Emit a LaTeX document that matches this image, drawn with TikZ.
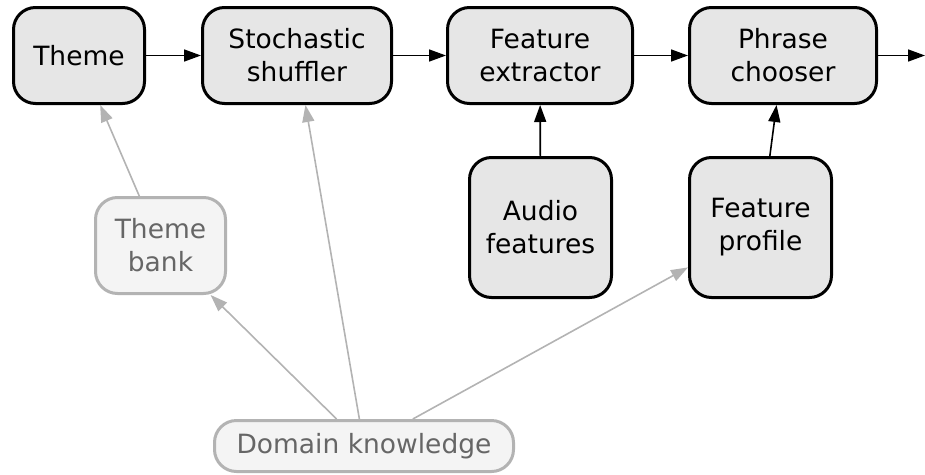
\documentclass[tikz,border=0pt]{standalone}
\usepackage{fontspec}
\setmainfont{DejaVu Sans}
\usetikzlibrary{arrows.meta}
\definecolor{boxfill}{HTML}{E6E6E6}
\definecolor{softfill}{HTML}{F4F4F4}
\definecolor{softline}{HTML}{B3B3B3}
\definecolor{softtext}{HTML}{666666}
\tikzset{
  stage/.style={draw=black, fill=boxfill, line width=3pt, rounded corners=22pt,
    inner sep=0pt, align=center, font=\fontsize{26.5}{33}\selectfont},
  source/.style={draw=softline, fill=softfill, text=softtext, line width=3pt,
    rounded corners=22pt, inner sep=0pt, align=center,
    font=\fontsize{26.5}{33}\selectfont},
  flow/.style={draw=black, line width=1.6pt,
    -{Triangle[length=17pt,width=12pt]}},
  hint/.style={draw=softline, line width=1.6pt,
    -{Triangle[length=17pt,width=12pt,fill=softline]}},
}
\begin{document}
\begin{tikzpicture}[x=1pt, y=-1pt]
  \useasboundingbox (0,0) rectangle (925,474);

  % main pipeline
  \node[stage, minimum width=131pt, minimum height=96pt] (theme) at (79,55.5) {Theme};
  \node[stage, minimum width=189pt, minimum height=96pt] (shuf) at (297,55.5) {Stochastic\\shuffler};
  \node[stage, minimum width=185pt, minimum height=96pt] (extr) at (540,55.5) {Feature\\extractor};
  \node[stage, minimum width=187pt, minimum height=96pt] (choose) at (783,55.5) {Phrase\\chooser};
  \coordinate (out) at (925,55.5);

  % side inputs
  \node[stage, minimum width=142pt, minimum height=140pt] (audio) at (540.5,227.5) {Audio\\features};
  \node[stage, minimum width=142pt, minimum height=140pt] (prof) at (760.5,227.5) {Feature\\profile};

  % background knowledge
  \node[source, minimum width=130pt, minimum height=96pt] (bank) at (160.5,245.5) {Theme\\bank};
  \node[source, minimum width=299pt, minimum height=51pt] (dom) at (364,446) {Domain knowledge};

  % connectors
  \draw[flow] (theme) -- (shuf);
  \draw[flow] (shuf) -- (extr);
  \draw[flow] (extr) -- (choose);
  \draw[flow] (choose.east) -- (out);
  \draw[flow] (audio) -- (extr);
  \draw[flow] (prof) -- (choose);

  \draw[hint] (bank) -- (theme);
  \draw[hint] (dom) -- (bank);
  \draw[hint] (dom) -- (shuf);
  \draw[hint] (dom) -- (prof);
\end{tikzpicture}
\end{document}
